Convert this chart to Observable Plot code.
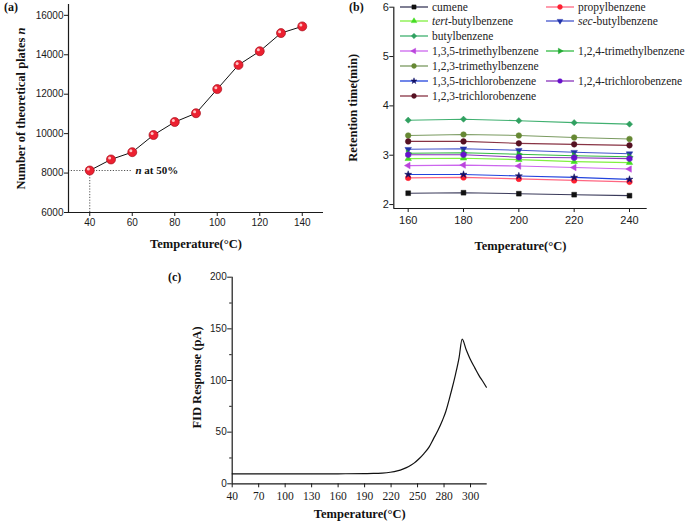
<!DOCTYPE html>
<html>
<head>
<meta charset="utf-8">
<script src="https://cdn.jsdelivr.net/npm/d3@7"></script>
<script src="https://cdn.jsdelivr.net/npm/@observablehq/plot@0.6"></script>
<style>
  body { margin: 0; background: #fff; }
  #fig { position: relative; width: 685px; height: 522px; overflow: hidden; background: #fff; color: #1a1a1a; }
  #fig > svg, #fig > .panel { position: absolute; }
  .plabel { position: absolute; font: bold 12px "Liberation Serif", serif; color: #111; }
  .leg { position: absolute; font: 11.5px "Liberation Serif", serif; color: #222; white-space: nowrap; display: flex; align-items: center; height: 12px; }
  .leg svg { display: block; margin-right: 3px; }
</style>
</head>
<body>
<div id="fig"></div>
<script>
// ---------- Panel (a): theoretical plates vs temperature ----------
const tempsA = [40, 50, 60, 70, 80, 90, 100, 110, 120, 130, 140];
const platesA = [8130, 8690, 9060, 9930, 10590, 11035, 12260, 13485, 14180, 15100, 15440];
const xTicksA = [40, 60, 80, 100, 120, 140];
const yTicksA = [6000, 8000, 10000, 12000, 14000, 16000];
const refTempA = 40, refPlatesA = 8130, refEndA = 60, refLabelA = "n at 50%";

// ---------- Panel (b): retention time vs temperature ----------
const tempsB = [160, 180, 200, 220, 240];
const compounds = ["cumene", "propylbenzene", "tert-butylbenzene", "sec-butylbenzene", "butylbenzene",
  "1,3,5-trimethylbenzene", "1,2,4-trimethylbenzene", "1,2,3-trimethylbenzene",
  "1,3,5-trichlorobenzene", "1,2,4-trichlorobenzene", "1,2,3-trichlorobenzene"];
const cumene = [2.23, 2.24, 2.22, 2.20, 2.18];
const propylbenzene = [2.54, 2.55, 2.52, 2.49, 2.46];
const tertButylbenzene = [2.93, 2.94, 2.91, 2.87, 2.85];
const secButylbenzene = [3.12, 3.13, 3.10, 3.06, 3.03];
const butylbenzene = [3.71, 3.73, 3.70, 3.66, 3.63];
const tmb135 = [2.79, 2.80, 2.78, 2.75, 2.72];
const tmb124 = [3.04, 3.05, 3.02, 2.99, 2.97];
const tmb123 = [3.40, 3.42, 3.40, 3.36, 3.33];
const tcb135 = [2.61, 2.61, 2.58, 2.55, 2.51];
const tcb124 = [3.01, 3.01, 2.96, 2.95, 2.93];
const tcb123 = [3.28, 3.28, 3.24, 3.22, 3.20];
const retention = [cumene, propylbenzene, tertButylbenzene, secButylbenzene, butylbenzene,
  tmb135, tmb124, tmb123, tcb135, tcb124, tcb123];
const lineColors = ["#3a3a5a", "#ff6680", "#80f040", "#4455cc", "#40b070", "#cc66ee", "#33bb44", "#7a9a60", "#2244dd", "#8833bb", "#883344"];
const markColors = ["#111111", "#ff2030", "#44dd22", "#2233aa", "#30a060", "#bb44dd", "#22aa33", "#668833", "#111166", "#6611cc", "#551122"];
const symbolsB = ["square", "circle", "triangle", "triangle", "diamond2", "triangle", "triangle", "circle", "star", "hexagon", "circle"];
const rotateB = [0, 0, 0, 180, 0, -90, 90, 0, 0, 0, 0];
const sizeB = [2.7, 2.8, 2.4, 2.4, 2.8, 2.4, 2.4, 2.8, 2.2, 2.7, 2.8];
const legendRows = [[0, 1], [2, 3], [4, null], [5, 6], [7, null], [8, 9], [10, null]];
const xTicksB = [160, 180, 200, 220, 240];
const yTicksB = [2, 3, 4, 5, 6];

// ---------- Panel (c): FID response vs temperature ----------
const tempC = [40, 70, 100, 130, 160, 190, 200, 210, 219, 227, 234, 240, 246, 252, 257, 263, 268, 273, 278, 282, 285.5, 289, 293, 297, 300.5, 305, 310, 315, 319.5, 324, 328];
const fidC = [9.7, 9.7, 9.7, 9.7, 9.7, 9.9, 10.0, 10.4, 11.2, 12.5, 14.5, 16.8, 20, 24.5, 29, 35.5, 43.5, 51.5, 61, 70, 80.6, 92, 106, 122, 140, 130, 120, 112, 105, 99, 93.5];
const xTickValuesC = [40, 70, 100, 130, 160, 190, 220, 250, 280, 310];
const xTickLabelsC = ["40", "70", "100", "130", "160", "190", "220", "250", "280", "300"];
const yTicksC = [0, 50, 100, 150, 200];
const yMinorC = [25, 75, 125, 175];

const SANS = "Liberation Sans, Arial, sans-serif";
const SERIF = "Liberation Serif, Times New Roman, serif";
const fig = document.getElementById("fig");

function italicize(svg, full, part) {
  d3.select(svg).selectAll("text").each(function () {
    if (this.textContent === full) {
      const i = full.indexOf(part);
      const s = d3.select(this);
      s.text(null);
      if (i > 0) s.append("tspan").text(full.slice(0, i));
      s.append("tspan").attr("font-style", "italic").text(part);
      if (i + part.length < full.length) s.append("tspan").text(full.slice(i + part.length));
    }
  });
}
function place(el, left, top) { el.style.left = left + "px"; el.style.top = top + "px"; fig.appendChild(el); }

// ----- (a)
const xDomA = [30, 150], yDomA = [6000, 16550];
const titleA = "Number of theoretical plates n";
const svgA = Plot.plot({
  width: 340, height: 260, marginLeft: 68, marginRight: 17, marginTop: 4, marginBottom: 48,
  style: { background: "transparent", color: "#1a1a1a", overflow: "visible" },
  x: { domain: xDomA }, y: { domain: yDomA },
  marks: [
    Plot.ruleY([refPlatesA], { x1: xDomA[0], x2: refEndA, stroke: "#555", strokeDasharray: "1.2,1.6", strokeWidth: 1 }),
    Plot.ruleX([refTempA], { y1: yDomA[0], y2: refPlatesA, stroke: "#555", strokeDasharray: "1.2,1.6", strokeWidth: 1 }),
    Plot.text([refLabelA], { x: refEndA + 1.5, y: refPlatesA, textAnchor: "start", lineAnchor: "middle", fontFamily: SERIF, fontWeight: "bold", fontSize: 11, fill: "#111" }),
    Plot.ruleX([xDomA[0]], { stroke: "#1a1a1a", strokeWidth: 1.2 }),
    Plot.ruleY([yDomA[0]], { stroke: "#1a1a1a", strokeWidth: 1.2 }),
    Plot.axisX({ ticks: xTicksA, tickSize: 4, tickPadding: 2, fontSize: 10, fontFamily: SANS, label: null, tickFormat: d => String(d) }),
    Plot.axisY({ ticks: yTicksA, tickSize: 4, tickPadding: 1, fontSize: 10, fontFamily: SANS, label: null, tickFormat: d => String(d) }),
    Plot.line(tempsA.map((t, i) => [t, platesA[i]]), { x: "0", y: "1", stroke: "#111", strokeWidth: 1 }),
    Plot.dot(tempsA.map((t, i) => [t, platesA[i]]), { x: "0", y: "1", r: 4.5, fill: "#ec2030", stroke: "#a8101c", strokeWidth: 0.7 }),
    Plot.dot(tempsA.map((t, i) => [t, platesA[i]]), { x: "0", y: "1", r: 1.5, fill: "#ffc4c4", dx: -1.4, dy: -1.4 }),
    Plot.text(["Temperature(°C)"], { frameAnchor: "bottom", dy: 31, lineAnchor: "middle", fontFamily: SERIF, fontWeight: "bold", fontSize: 12.5, fill: "#111" }),
    Plot.text([titleA], { frameAnchor: "left", rotate: -90, dx: -48, textAnchor: "middle", lineAnchor: "middle", fontFamily: SERIF, fontWeight: "bold", fontSize: 12.5, fill: "#111" })
  ]
});
italicize(svgA, titleA, "n");
italicize(svgA, refLabelA, "n");
place(svgA, 0, 0);

// ----- (b)
const xDomB = [154.8, 246.4], yDomB = [1.92, 6.0];
const marksB = [
  Plot.ruleX([xDomB[0]], { stroke: "#1a1a1a", strokeWidth: 1.2 }),
  Plot.ruleY([yDomB[0]], { stroke: "#1a1a1a", strokeWidth: 1.2 }),
  Plot.axisX({ ticks: xTicksB, tickSize: 4, tickPadding: 4, fontSize: 11, fontFamily: SANS, label: null, tickFormat: d => String(d) }),
  Plot.axisY({ ticks: yTicksB, tickSize: 4, tickPadding: 1, fontSize: 11, fontFamily: SANS, label: null, tickFormat: d => String(d) }),
  Plot.text(["Temperature(°C)"], { frameAnchor: "bottom", dy: 37, lineAnchor: "middle", fontFamily: SERIF, fontWeight: "bold", fontSize: 12.5, fill: "#111" }),
  Plot.text(["Retention time(min)"], { frameAnchor: "left", rotate: -90, dx: -41, textAnchor: "middle", lineAnchor: "middle", fontFamily: SERIF, fontWeight: "bold", fontSize: 12.5, fill: "#111" })
];
retention.forEach((vals, k) => {
  const rows = tempsB.map((t, i) => [t, vals[i]]);
  marksB.push(Plot.line(rows, { x: "0", y: "1", stroke: lineColors[k], strokeWidth: 1.1 }));
});
retention.forEach((vals, k) => {
  const rows = tempsB.map((t, i) => [t, vals[i]]);
  marksB.push(Plot.dot(rows, { x: "0", y: "1", symbol: () => symbolsB[k], rotate: rotateB[k], r: sizeB[k], fill: markColors[k], stroke: markColors[k], strokeWidth: 0.5 }));
});
const svgB = Plot.plot({
  width: 345, height: 260, marginLeft: 53.3, marginRight: 38.3, marginTop: 6.7, marginBottom: 52,
  style: { background: "transparent", color: "#1a1a1a", overflow: "visible" },
  x: { domain: xDomB }, y: { domain: yDomB },
  symbol: { type: "identity" },
  marks: marksB
});
place(svgB, 340, 0);

// legend for (b)
const d3sym = { square: d3.symbolSquare, circle: d3.symbolCircle, triangle: d3.symbolTriangle, diamond2: d3.symbolDiamond2, star: d3.symbolStar, hexagon: d3.symbolHexagon };
function legendItem(k, left, top) {
  const div = document.createElement("div");
  div.className = "leg";
  const sw = d3.create("svg").attr("width", 29).attr("height", 12);
  sw.append("line").attr("x1", 0).attr("x2", 28).attr("y1", 6).attr("y2", 6).attr("stroke", lineColors[k]).attr("stroke-width", 1.3);
  sw.append("path").attr("d", d3.symbol(d3sym[symbolsB[k]], Math.PI * sizeB[k] * sizeB[k] * 0.75)()).attr("transform", `translate(14,6) rotate(${rotateB[k]})`)
    .attr("fill", markColors[k]).attr("stroke", markColors[k]).attr("stroke-width", 0.5);
  div.appendChild(sw.node());
  const span = document.createElement("span");
  const name = compounds[k];
  const m = name.match(/^(tert|sec)(-.*)$/);
  if (m) { const it = document.createElement("i"); it.textContent = m[1]; span.appendChild(it); span.appendChild(document.createTextNode(m[2])); }
  else span.textContent = name;
  div.appendChild(span);
  place(div, left, top);
}
legendRows.forEach((row, r) => {
  const top = 0.5 + r * 14.9;
  if (row[0] !== null) legendItem(row[0], 400, top);
  if (row[1] !== null) legendItem(row[1], 546, top);
});

// ----- (c)
const xDomC = [40, 328.9], yDomC = [0, 200];
const svgC = Plot.plot({
  width: 400, height: 257, marginLeft: 81.7, marginRight: 63.3, marginTop: 11.7, marginBottom: 38.7,
  style: { background: "transparent", color: "#1a1a1a", overflow: "visible" },
  x: { domain: xDomC }, y: { domain: yDomC },
  marks: [
    Plot.ruleX([xDomC[0]], { stroke: "#1a1a1a", strokeWidth: 1.2 }),
    Plot.ruleY([yDomC[0]], { stroke: "#1a1a1a", strokeWidth: 1.2 }),
    Plot.axisX({ ticks: xTickValuesC, tickSize: 4, tickPadding: 4, fontSize: 11.5, fontFamily: SERIF, label: null, tickFormat: d => xTickLabelsC[xTickValuesC.indexOf(d)] }),
    Plot.axisY({ ticks: yTicksC, tickSize: 4.5, tickPadding: 1, fontSize: 10, fontFamily: SANS, label: null, tickFormat: d => String(d) }),
    Plot.axisY({ ticks: yMinorC, tickSize: 2.5, tickPadding: 0, label: null, tickFormat: () => "" }),
    Plot.line(tempC.map((t, i) => [t, fidC[i]]), { x: "0", y: "1", stroke: "#111", strokeWidth: 1.2, curve: "monotone-x" }),
    Plot.text(["Temperature(°C)"], { frameAnchor: "bottom", dy: 30, lineAnchor: "middle", fontFamily: SERIF, fontWeight: "bold", fontSize: 12.5, fill: "#111" }),
    Plot.text(["FID Response (pA)"], { frameAnchor: "left", rotate: -90, dx: -35, dy: -3, textAnchor: "middle", lineAnchor: "middle", fontFamily: SERIF, fontWeight: "bold", fontSize: 12.5, fill: "#111" })
  ]
});
place(svgC, 150, 265);

// panel letters
[["(a)", 4, 0], ["(b)", 349, 0], ["(c)", 168, 270]].forEach(([t, l, tp]) => {
  const s = document.createElement("div"); s.className = "plabel"; s.textContent = t; place(s, l, tp);
});
</script>
</body>
</html>
